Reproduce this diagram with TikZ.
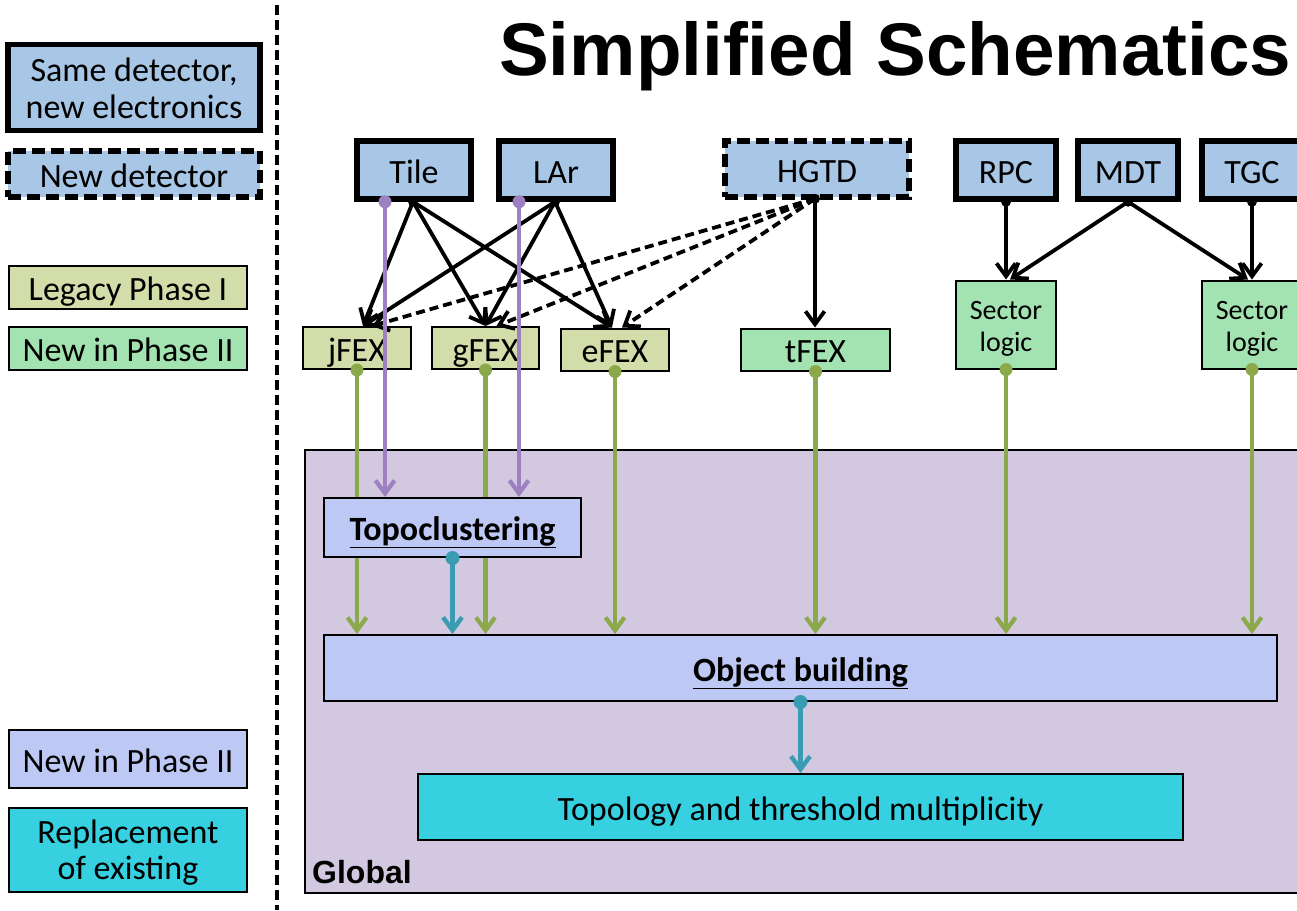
\documentclass[tikz,border=0pt]{standalone}
\usepackage{fontspec}
\setmainfont{Carlito}
\newfontfamily\arialfont{Liberation Sans}
\usetikzlibrary{arrows.meta,calc}
\pgfdeclarelayer{back}
\pgfdeclarelayer{front}
\pgfsetlayers{back,main,front}

\definecolor{detblue}{HTML}{A8C6E5}
\definecolor{legacy}{HTML}{D3DDAA}
\definecolor{newgreen}{HTML}{A3E3B1}
\definecolor{lavender}{HTML}{BEC8F4}
\definecolor{cyanbox}{HTML}{36D0E0}
\definecolor{globalbg}{HTML}{D2C8E0}
\definecolor{purpleline}{HTML}{9D80C0}
\definecolor{oliveline}{HTML}{8BA84A}
\definecolor{tealline}{HTML}{3A9CB2}

% two-line label: first line lifted by a strut of height #1, both lines smashed
\newcommand\twolines[3]{\rule{0pt}{#1}\smash{#2}\\\smash{#3}}

\tikzset{
  txt/.style={font=\fontsize{34}{36.6}\selectfont, align=center, inner sep=0pt},
  one/.style={text height=26pt, text depth=0pt},
  detbox/.style={txt, draw, line width=5.5pt, fill=detblue, minimum height=58pt},
  newdet/.style={detbox, dash pattern=on 13pt off 6pt},
  thinbox/.style={txt, draw, line width=2pt},
  legacybox/.style={thinbox, fill=legacy, minimum height=42pt},
  greenbox/.style={thinbox, fill=newgreen, minimum height=42pt},
  lavbox/.style={thinbox, fill=lavender},
  cyanfill/.style={thinbox, fill=cyanbox},
  sector/.style={greenbox, minimum width=100pt, minimum height=88pt, font=\fontsize{28}{32.4}\selectfont},
  boldlbl/.style={lavbox, one, font=\bfseries\fontsize{34}{36}\selectfont},
  barb/.style={-{Straight Barb[length=13pt,width=19pt]}},
  blk/.style={barb, line width=3.8pt, black},
  blkdash/.style={blk, dash pattern=on 9pt off 5pt},
  olive/.style={barb, line width=4.2pt, oliveline},
  purp/.style={barb, line width=4.2pt, purpleline},
  teal/.style={barb, line width=4.4pt, tealline},
}

\begin{document}
\begin{tikzpicture}[x=1pt,y=-1pt]
\useasboundingbox (0,0) rectangle (1297,910);

% title
\node[anchor=base west, inner sep=0pt, font=\arialfont\bfseries\fontsize{74.6}{80}\selectfont] (title) at (499,75) {Simplified Schematics};

% divider between legend and schematic
\coordinate (divtop) at (277,5);
\coordinate (divbot) at (277,910);
\draw[line width=3.4pt, dash pattern=on 10pt off 5pt] (divtop) -- (divbot);

% legend
\node[detbox, minimum width=252pt, minimum height=86pt] (lsame) at (134,87.5) {\twolines{25pt}{Same detector,}{new electronics}};
\node[newdet, one, minimum width=252pt, minimum height=46pt] (lnew) at (134,174) {New detector};
\node[legacybox, one, minimum width=238pt, minimum height=43pt] (llegacy) at (128,287.5) {Legacy Phase I};
\node[greenbox, one, minimum width=238pt, minimum height=43pt] (lnewII) at (128,348.5) {New in Phase II};
\node[lavbox, one, minimum width=238pt, minimum height=58pt] (llav) at (128,759) {New in Phase II};
\node[cyanfill, minimum width=238pt, minimum height=84pt] (lrep) at (128,850) {\twolines{23pt}{Replacement}{of existing}};

% global trigger area
\begin{pgfonlayer}{back}
\node[draw, line width=2pt, fill=globalbg, minimum width=1010pt, minimum height=443pt, inner sep=0pt, anchor=north west] (global) at (304,449) {};
\end{pgfonlayer}
\node[anchor=base west, inner sep=0pt, font=\arialfont\bfseries\fontsize{32}{36}\selectfont] (globallbl) at (312,883) {Global};

% detectors
\node[detbox, one, minimum width=114pt] (Tile) at (414,170) {Tile};
\node[detbox, one, minimum width=114pt] (LAr) at (556,170) {LAr};
\node[newdet, one, minimum width=184pt, minimum height=56pt] (HGTD) at (817,169) {HGTD};
\node[detbox, one, minimum width=100pt] (RPC) at (1006,170) {RPC};
\node[detbox, one, minimum width=100pt] (MDT) at (1128,170) {MDT};
\node[detbox, one, minimum width=100pt] (TGC) at (1252,170) {TGC};

% feature extractors and sector logic
\node[legacybox, one, minimum width=108pt] (jFEX) at (357,348) {jFEX};
\node[legacybox, one, minimum width=107pt] (gFEX) at (485.5,348) {gFEX};
\node[legacybox, one, minimum width=108pt] (eFEX) at (615,349.5) {eFEX};
\node[greenbox, one, minimum width=149pt] (tFEX) at (815.5,349.5) {tFEX};
\node[sector] (SL1) at (1006,324.5) {\twolines{21.6pt}{Sector}{logic}};
\node[sector] (SL2) at (1252,324.5) {\twolines{21.6pt}{Sector}{logic}};

% global processing blocks
\begin{pgfonlayer}{front}
\node[boldlbl, minimum width=257pt, minimum height=59pt] (Topo) at (452.5,527.5) {\underline{Topoclustering}};
\end{pgfonlayer}
\node[boldlbl, minimum width=953pt, minimum height=66pt] (Obj) at (800.5,668) {\underline{Object building}};
\node[cyanfill, one, minimum width=765pt, minimum height=66pt] (Topol) at (800.5,807) {Topology and threshold multiplicity};

% calorimeter connections
\coordinate (tileout) at ($(Tile.south)+(-1,0)$);
\coordinate (larout) at ($(LAr.south)+(-1,0)$);
\coordinate (hgtdout) at ($(HGTD.south)+(-2,-1)$);
\coordinate (jin) at ($(jFEX.north)+(6,0)$);
\coordinate (gin) at ($(gFEX.north)+(0,0)$);
\coordinate (ein) at ($(eFEX.north)+(-3,0)$);
\draw[blk] (tileout) -- (jin);
\draw[blk] (tileout) -- (gin);
\draw[blk] (tileout) -- (ein);
\draw[blk] (larout) -- (jin);
\draw[blk] (larout) -- (gin);
\draw[blk] (larout) -- (ein);
\draw[blkdash] (hgtdout) -- ($(jFEX.north)+(15,0)$);
\draw[blkdash] (hgtdout) -- ($(gFEX.north)+(11,0)$);
\draw[blkdash] (hgtdout) -- ($(eFEX.north)+(7,0)$);
\draw[blk] (hgtdout) -- (hgtdout |- tFEX.north);
\fill (tileout) circle (5pt);
\fill (larout) circle (5pt);
\fill (hgtdout) circle (5pt);

% muon connections
\draw[blk] (RPC.south) -- (RPC.south |- SL1.north);
\draw[blk] (MDT.south) -- ($(SL1.north)+(4,0)$);
\draw[blk] (MDT.south) -- ($(SL2.north)+(-4,0)$);
\draw[blk] (TGC.south) -- (TGC.south |- SL2.north);
\fill (RPC.south) circle (5pt);
\fill (MDT.south) circle (5pt);
\fill (TGC.south) circle (5pt);

% cell data into topoclustering
\coordinate (tilecell) at ($(Tile.south)+(-29,0)$);
\coordinate (larcell) at ($(LAr.south)+(-37,0)$);
\draw[purp] (tilecell) -- (tilecell |- Topo.north);
\draw[purp] (larcell) -- (larcell |- Topo.north);
\fill[purpleline] (tilecell) circle (6.5pt);
\fill[purpleline] (larcell) circle (6.5pt);

% trigger objects into object building
\foreach \src in {jFEX,gFEX,eFEX,tFEX,SL1,SL2}{
  \draw[olive] (\src.south) -- (\src.south |- Obj.north);
  \fill[oliveline] (\src.south) circle (6.5pt);
}

% global internal flow
\begin{pgfonlayer}{front}
\draw[teal] (Topo.south) -- (Topo.south |- Obj.north);
\fill[tealline] (Topo.south) circle (7pt);
\end{pgfonlayer}
\draw[teal] (Obj.south) -- (Obj.south |- Topol.north);
\fill[tealline] (Obj.south) circle (7pt);
\end{tikzpicture}
\end{document}
